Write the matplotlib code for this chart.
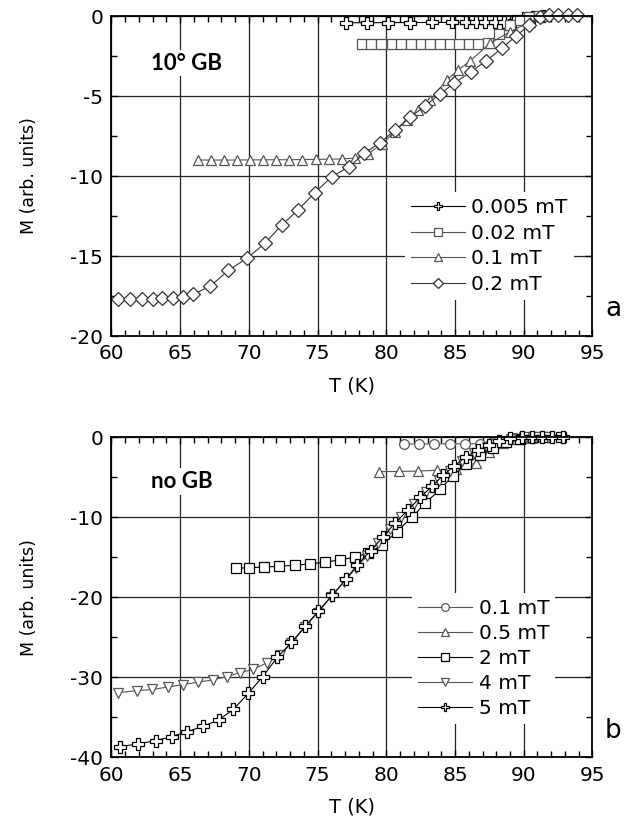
import matplotlib
matplotlib.use("Agg")
import matplotlib.pyplot as plt
from matplotlib.ticker import MultipleLocator

plt.rcParams['axes.unicode_minus'] = False
plt.rcParams['font.family'] = 'DejaVu Sans'

# ---- panel a: 10 deg GB ----
t_a005 = [77.1, 78.6, 80.1, 81.7, 83.3, 84.8, 85.8, 86.5, 87.2, 87.9, 88.6, 89.3, 90.0, 90.7, 91.4]
m_a005 = [-0.42, -0.42, -0.41, -0.41, -0.40, -0.40, -0.39, -0.39, -0.38, -0.37, -0.35, -0.28, -0.15, -0.05, 0.0]

t_a002 = [78.2, 78.9, 79.6, 80.4, 81.1, 81.8, 82.5, 83.2, 83.9, 84.6, 85.3, 86.0, 86.7, 87.4,
          88.2, 89.0, 89.7, 90.4, 91.1]
m_a002 = [-1.75, -1.75, -1.75, -1.75, -1.75, -1.75, -1.75, -1.75, -1.75, -1.75, -1.75, -1.74, -1.73, -1.7,
          -1.1, -0.55, -0.25, -0.05, 0.0]

t_a01 = [66.3, 67.25, 68.2, 69.15, 70.1, 71.05, 72.0, 72.95, 73.9, 74.85, 75.8, 76.75, 77.7, 78.7, 79.66,
         80.6, 81.5, 82.3, 83.2, 84.4, 85.2, 86.1, 87.55, 89.0, 90.46, 91.5]
m_a01 = [-9.0, -9.0, -9.0, -9.0, -8.99, -8.99, -8.98, -8.98, -8.97, -8.96, -8.95, -8.93, -8.88, -8.6, -8.0,
         -7.25, -6.5, -5.9, -5.25, -4.0, -3.4, -2.8, -1.7, -0.98, -0.36, 0.0]

t_a02 = [60.5, 61.35, 62.2, 63.0, 63.7, 64.45, 65.2, 65.9, 67.17, 68.5, 69.84, 71.17, 72.39, 73.6, 74.8,
         76.03, 77.3, 78.4, 79.54, 80.63, 81.72, 82.82, 83.9, 84.95, 86.16, 87.26, 88.4, 89.44, 90.4,
         91.2, 91.86, 92.5, 93.2, 93.9]
m_a02 = [-17.69, -17.69, -17.68, -17.66, -17.63, -17.6, -17.55, -17.4, -16.9, -15.9, -15.15, -14.2, -13.06,
         -12.1, -11.04, -10.04, -9.42, -8.58, -7.92, -7.12, -6.33, -5.62, -4.87, -4.2, -3.48, -2.81, -2.02,
         -1.25, -0.56, -0.04, 0.06, 0.06, 0.06, 0.06]

# ---- panel b: no GB ----
t_b01 = [81.3, 82.4, 83.5, 84.6, 85.7, 86.8, 87.6, 88.5, 89.4, 90.3]
m_b01 = [-0.81, -0.81, -0.8, -0.8, -0.79, -0.78, -0.7, -0.4, -0.1, 0.0]

t_b05 = [79.5, 80.9, 82.3, 83.7, 85.1, 86.5, 87.5, 88.5, 89.5, 90.5, 91.5]
m_b05 = [-4.27, -4.25, -4.2, -4.1, -3.9, -3.2, -1.8, -0.7, -0.2, -0.05, 0.0]

t_b2 = [69.07, 70.0, 71.1, 72.2, 73.35, 74.44, 75.53, 76.6, 77.7, 78.7, 79.66, 80.76, 81.85, 82.82,
        83.9, 84.84, 85.8, 86.8, 87.75, 88.7, 89.7, 90.7, 91.7, 92.7]
m_b2 = [-16.35, -16.27, -16.2, -16.1, -15.97, -15.8, -15.6, -15.3, -14.98, -14.4, -13.5, -11.8, -9.98,
        -8.25, -6.5, -4.8, -3.35, -2.2, -1.35, -0.6, -0.2, 0.0, 0.05, 0.05]

t_b4 = [60.48, 61.86, 62.98, 64.08, 65.17, 66.28, 67.36, 68.37, 69.34, 70.27, 71.29, 72.26, 73.1,
        74.08, 75.0, 76.0, 76.9, 77.8, 78.6, 79.4, 80.3, 81.1, 82.0, 82.9, 83.8, 84.6, 85.5, 86.4,
        87.3, 88.2, 89.1, 90.0, 90.9, 91.8]
m_b4 = [-31.9, -31.65, -31.5, -31.2, -30.9, -30.6, -30.3, -29.9, -29.4, -29.0, -28.2, -27.2, -25.7,
        -23.7, -21.9, -19.9, -18.1, -16.3, -14.8, -13.2, -11.5, -9.9, -8.3, -6.8, -5.4, -4.2, -3.0, -2.0,
        -1.2, -0.6, -0.2, 0.0, 0.05, 0.05]

t_b5 = [60.6, 61.94, 63.23, 64.37, 65.46, 66.67, 67.81, 68.86, 69.95, 71.0, 72.06, 73.1, 74.1, 75.05,
        76.05, 77.05, 77.85, 78.86, 79.78, 80.63, 81.58, 82.46, 83.35, 84.15, 84.95, 85.78, 86.7, 87.5,
        88.2, 89.0, 89.86, 90.6, 91.3, 92.05, 92.85]
m_b5 = [-38.65, -38.3, -37.9, -37.4, -36.8, -36.1, -35.3, -34.0, -32.0, -29.9, -27.5, -25.6, -23.6,
        -21.7, -19.75, -17.75, -16.0, -14.15, -12.4, -10.7, -9.06, -7.5, -6.06, -4.7, -3.56, -2.4, -1.56,
        -0.94, -0.5, -0.1, 0.0, 0.02, 0.03, 0.03, 0.03]

GRAY = '#555555'


def style_axes(ax, ymin, ymaj, ymin_step):
    ax.set_xlim(60, 95)
    ax.set_ylim(ymin, 0)
    ax.xaxis.set_major_locator(MultipleLocator(5))
    ax.xaxis.set_minor_locator(MultipleLocator(1))
    ax.yaxis.set_major_locator(MultipleLocator(ymaj))
    ax.yaxis.set_minor_locator(MultipleLocator(ymin_step))
    ax.tick_params(which='both', direction='in', top=True, right=True, labelsize=14.5, pad=6)
    ax.tick_params(which='major', length=5, width=1)
    ax.tick_params(which='minor', length=4.5, width=1)
    for s in ax.spines.values():
        s.set_linewidth(1.3)
    ax.set_axisbelow(True)
    ax.grid(True, which='major', color='#222222', lw=0.9)
    ax.set_xlabel('T (K)', fontsize=14)
    ax.set_ylabel('M (arb. units)', fontsize=12.5)
    ax.xaxis.set_label_coords(0.5, -0.125)
    ax.yaxis.set_label_coords(-0.153, 0.5)


def curve(ax, t, m, marker, label, color='black', ms=7.5):
    ax.plot(t, m, color=color, lw=0.8, marker=marker, ms=ms, mfc='white', mec=color, mew=0.9,
            label=label, clip_on=False)


fig = plt.figure(figsize=(6.32, 8.22), dpi=100)
ax1 = fig.add_axes([0.1764, 0.5912, 0.761, 0.3893])
ax2 = fig.add_axes([0.1764, 0.0785, 0.761, 0.3893])

# panel a
curve(ax1, t_a005, m_a005, 'P', '0.005 mT', 'black', 8)
curve(ax1, t_a002, m_a002, 's', '0.02 mT', GRAY, 7)
curve(ax1, t_a01, m_a01, '^', '0.1 mT', GRAY, 7.5)
curve(ax1, t_a02, m_a02, 'D', '0.2 mT', '#333333', 7)
style_axes(ax1, -20, 5, 2.5)
ax1.legend(loc='upper left', bbox_to_anchor=(0.61, 0.45), fontsize=14.5, frameon=True,
           fancybox=False, edgecolor='none', facecolor='white', framealpha=1,
           handlelength=2.7, handletextpad=0.3, labelspacing=0.33, markerscale=0.8,
           borderpad=0.3, borderaxespad=0)
ax1.text(62.85, -2.95, '10° GB', fontsize=16, fontweight='bold', family=['Lato', 'DejaVu Sans'],
         va='center', ha='left', bbox=dict(facecolor='white', edgecolor='none', pad=2))
ax1.text(1.043, 0.084, 'a', transform=ax1.transAxes, fontsize=19, ha='center', va='center')

# panel b
curve(ax2, t_b01, m_b01, 'o', '0.1 mT', GRAY, 7)
curve(ax2, t_b05, m_b05, '^', '0.5 mT', GRAY, 7)
curve(ax2, t_b2, m_b2, 's', '2 mT', 'black', 7)
curve(ax2, t_b4, m_b4, 'v', '4 mT', GRAY, 7)
curve(ax2, t_b5, m_b5, 'P', '5 mT', 'black', 8)
style_axes(ax2, -40, 10, 5)
ax2.legend(loc='upper left', bbox_to_anchor=(0.625, 0.515), fontsize=14.5, frameon=True,
           fancybox=False, edgecolor='none', facecolor='white', framealpha=1,
           handlelength=2.7, handletextpad=0.3, labelspacing=0.3, markerscale=0.8,
           borderpad=0.3, borderaxespad=0)
ax2.text(62.85, -5.5, 'no GB', fontsize=16, fontweight='bold', family=['Lato', 'DejaVu Sans'],
         va='center', ha='left', bbox=dict(facecolor='white', edgecolor='none', pad=2))
ax2.text(1.043, 0.084, 'b', transform=ax2.transAxes, fontsize=19, ha='center', va='center')

fig.savefig('out.png', dpi=100)
